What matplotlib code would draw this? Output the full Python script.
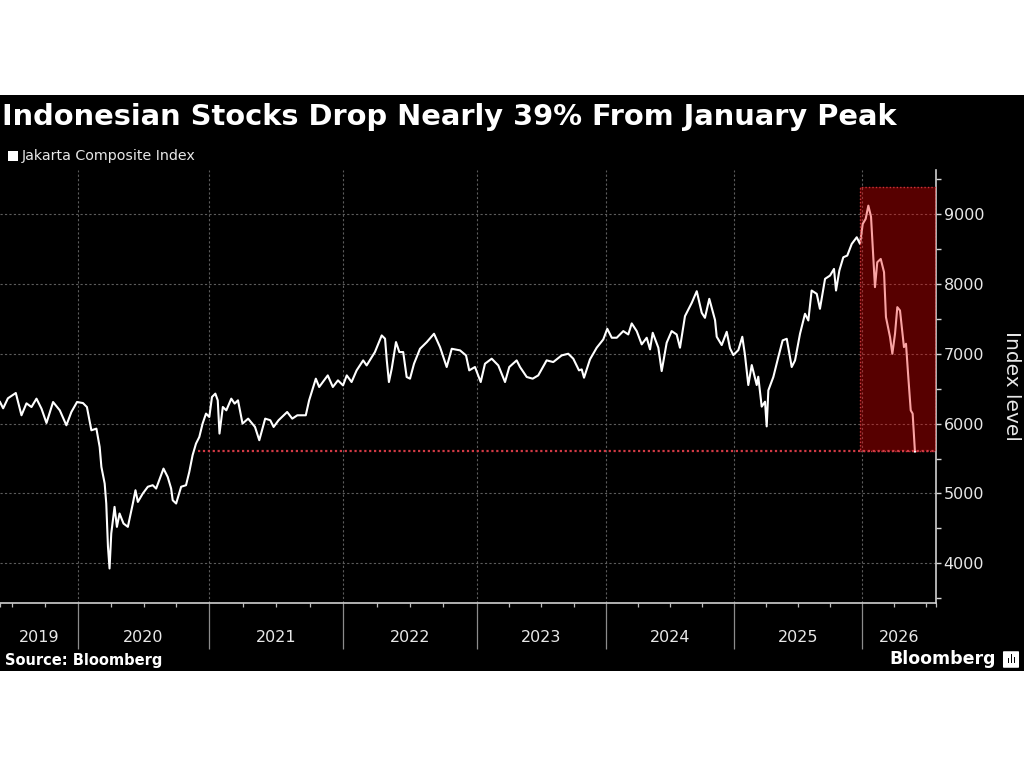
import matplotlib
matplotlib.use("Agg")
import numpy as np
import matplotlib.pyplot as plt
from matplotlib.patches import Rectangle, FancyBboxPatch
import matplotlib.ticker as mticker
import matplotlib.transforms as mtransforms

# ---------------- data (decimal years, index level) ----------------
t = [2019.409, 2019.434, 2019.470, 2019.530, 2019.573, 2019.611, 2019.649, 2019.687,
     2019.725, 2019.763, 2019.813, 2019.864, 2019.914, 2019.952, 2019.995,
     2020.040, 2020.070, 2020.104, 2020.142, 2020.167, 2020.180, 2020.205, 2020.217,
     2020.230, 2020.242, 2020.255, 2020.280, 2020.298, 2020.318, 2020.348, 2020.381,
     2020.419, 2020.439, 2020.457, 2020.495, 2020.533, 2020.570, 2020.596, 2020.652,
     2020.684, 2020.710, 2020.722, 2020.748, 2020.786, 2020.823, 2020.848, 2020.873,
     2020.899, 2020.924, 2020.949, 2020.975,
     2021.000, 2021.020, 2021.045, 2021.063, 2021.076, 2021.101, 2021.127, 2021.164,
     2021.189, 2021.214, 2021.248, 2021.290, 2021.341, 2021.373, 2021.417, 2021.455,
     2021.480, 2021.517, 2021.581, 2021.619, 2021.657, 2021.720, 2021.745, 2021.795,
     2021.820, 2021.884, 2021.922, 2021.960, 2021.998,
     2022.026, 2022.062, 2022.100, 2022.149, 2022.175, 2022.237, 2022.288, 2022.313,
     2022.326, 2022.342, 2022.363, 2022.395, 2022.420, 2022.449, 2022.475, 2022.500,
     2022.530, 2022.575, 2022.626, 2022.680, 2022.725, 2022.775, 2022.813, 2022.875,
     2022.920, 2022.944,
     2022.987, 2023.031, 2023.064, 2023.116, 2023.167, 2023.219, 2023.252, 2023.309,
     2023.335, 2023.387, 2023.433, 2023.476, 2023.541, 2023.592, 2023.657, 2023.708,
     2023.747, 2023.791, 2023.812, 2023.830, 2023.876, 2023.928, 2023.979,
     2024.010, 2024.045, 2024.084, 2024.135, 2024.174, 2024.201, 2024.240, 2024.279,
     2024.318, 2024.344, 2024.365, 2024.409, 2024.435, 2024.474, 2024.513, 2024.552,
     2024.578, 2024.617, 2024.670, 2024.709, 2024.748, 2024.773, 2024.807, 2024.852,
     2024.865, 2024.904, 2024.943, 2024.969, 2024.995,
     2025.034, 2025.065, 2025.086, 2025.112, 2025.139, 2025.178, 2025.190, 2025.217,
     2025.243, 2025.256, 2025.269, 2025.308, 2025.347, 2025.381, 2025.413, 2025.452,
     2025.478, 2025.517, 2025.556, 2025.582, 2025.608, 2025.648, 2025.673, 2025.713,
     2025.752, 2025.783, 2025.799, 2025.825, 2025.856, 2025.887, 2025.922, 2025.961,
     2025.987,
     2026.008, 2026.031, 2026.052, 2026.073, 2026.091, 2026.104, 2026.122, 2026.149,
     2026.175, 2026.190, 2026.222, 2026.240, 2026.261, 2026.279, 2026.300, 2026.331,
     2026.347, 2026.365, 2026.384, 2026.399, 2026.417]

v = [6309, 6219, 6362, 6438, 6119, 6290, 6237, 6357,
     6214, 6009, 6309, 6190, 5976, 6166, 6309,
     6294, 6237, 5904, 5928, 5665, 5380, 5142, 4856,
     4236, 3926, 4427, 4808, 4522, 4713, 4570, 4522,
     4856, 5046, 4879, 5000, 5096, 5118, 5070, 5356,
     5236, 5070, 4903, 4856, 5096, 5118, 5309, 5547,
     5714, 5808, 6000, 6143,
     6095, 6381, 6429, 6333, 5857, 6238, 6190, 6357,
     6286, 6333, 6000, 6071, 5952, 5762, 6071, 6048,
     5952, 6048, 6166, 6071, 6119, 6119, 6333, 6643,
     6524, 6690, 6524, 6619, 6547,
     6690, 6595, 6762, 6905, 6833, 7024, 7262, 7215,
     6905, 6595, 6786, 7167, 7024, 7024, 6667, 6643,
     6857, 7071, 7167, 7286, 7095, 6810, 7071, 7048,
     6976, 6762,
     6810, 6595, 6857, 6929, 6833, 6595, 6810, 6905,
     6810, 6667, 6643, 6690, 6905, 6881, 6976, 7000,
     6929, 6762, 6776, 6657, 6919, 7086, 7205,
     7357, 7229, 7229, 7324, 7276, 7434, 7324, 7134,
     7229, 7062, 7300, 7086, 6752, 7157, 7324, 7276,
     7086, 7538, 7729, 7895, 7586, 7514, 7786, 7481,
     7243, 7124, 7314, 7076, 6981,
     7052, 7243, 6981, 6552, 6838, 6552, 6671, 6243,
     6314, 5960, 6476, 6667, 6952, 7191, 7214, 6810,
     6905, 7286, 7572, 7476, 7905, 7857, 7643, 8072,
     8119, 8214, 7905, 8191, 8381, 8405, 8572, 8667,
     8572,
     8858, 8930, 9120, 8962, 8381, 7953, 8310, 8357,
     8167, 7524, 7238, 7000, 7286, 7667, 7619, 7095,
     7143, 6667, 6190, 6143, 5600]

title = "Indonesian Stocks Drop Nearly 39% From January Peak"
series_name = "Jakarta Composite Index"
y_label = "Index level"
source_text = "Source: Bloomberg"
brand_text = "Bloomberg"
year_labels = [2019, 2020, 2021, 2022, 2023, 2024, 2025, 2026]
year_bounds = [2020, 2021, 2022, 2023, 2024, 2025, 2026]
y_ticks = [4000, 5000, 6000, 7000, 8000, 9000]
x_start, x_end = 2019.41, 2026.582
y_min, y_max = 3432, 9630
peak_start = 2025.99
shade_top, shade_bottom = 9383, 5605
ref_line_start = 2020.914

# trading-day style time axis: relative width of each calendar year on the axis
axis_years = [x_start] + year_bounds + [x_end]
axis_pos = [0.0, 77.7, 209.3, 343.3, 476.7, 606.0, 734.0, 861.7, 936.0]


def fwd(x):
    return np.interp(x, axis_years, axis_pos)


def inv(p):
    return np.interp(p, axis_pos, axis_years)


# ---------------- figure ----------------
fig = plt.figure(figsize=(10.24, 7.68), dpi=100)
fig.patch.set_facecolor("white")
fig.add_artist(Rectangle((0, 97 / 768), 1, 576 / 768, transform=fig.transFigure,
                         facecolor="black", edgecolor="none", zorder=0))

ax = fig.add_axes([0.0, 165 / 768, 936 / 1024, 433 / 768])
ax.set_facecolor("black")
ax.set_xscale("function", functions=(fwd, inv))
ax.set_xlim(x_start, x_end)
ax.set_ylim(y_min, y_max)

ax.plot(t, v, color="white", lw=1.5, zorder=3, solid_joinstyle="round")

# shaded peak window
ax.add_patch(Rectangle((peak_start, shade_bottom), x_end - peak_start, shade_top - shade_bottom,
                       facecolor=(0.95, 0.0, 0.0), alpha=0.36, edgecolor="none", zorder=4))
ax.add_patch(Rectangle((peak_start, shade_bottom), x_end - peak_start, shade_top - shade_bottom,
                       fill=False, edgecolor="#c8363c", lw=1.0, linestyle=(0, (1, 1.5)), zorder=5))
ax.plot([ref_line_start, x_end], [shade_bottom, shade_bottom], color="#d23a45",
        lw=1.6, linestyle=(0, (1, 1.2)), zorder=5)

# grid / ticks
ax.xaxis.set_major_locator(mticker.FixedLocator(year_bounds))
ax.xaxis.set_minor_locator(mticker.MultipleLocator(0.25))
ax.xaxis.set_major_formatter(mticker.NullFormatter())
ax.xaxis.set_minor_formatter(mticker.NullFormatter())
ax.yaxis.set_major_locator(mticker.FixedLocator(y_ticks))
ax.yaxis.set_minor_locator(mticker.MultipleLocator(500))
ax.grid(True, which="major", color="#5c5c5c", lw=0.8, linestyle=(0, (2, 2)), zorder=1)
ax.set_axisbelow(True)

for s in ["left", "top"]:
    ax.spines[s].set_visible(False)
for s in ["bottom", "right"]:
    ax.spines[s].set_color("#cfcfcf")
    ax.spines[s].set_linewidth(1.2)

ax.tick_params(axis="x", which="major", direction="out", length=33, width=0.9,
               color="#8c8c8c", labelbottom=False)
ax.tick_params(axis="x", which="minor", direction="out", length=3, width=0.9, color="#bdbdbd")
ax.yaxis.tick_right()
ax.tick_params(axis="y", which="both", direction="out", length=3.5, width=1.0,
               color="#d8d8d8", labelsize=11.5, labelcolor="#e8e8e8", pad=2, left=False)

# year labels centred in visible spans
trans = mtransforms.blended_transform_factory(ax.transData, ax.transAxes)
for i, yr in enumerate(year_labels):
    mid = inv((fwd(axis_years[i]) + fwd(axis_years[i + 1])) / 2)
    ax.text(mid, -0.079, str(yr), transform=trans, ha="center", va="center",
            fontsize=11.5, color="#e8e8e8")

# texts
fig.text(0.002, (768 - 117) / 768, title, ha="left", va="center", fontsize=20.8,
         fontweight="bold", color="white")
fig.add_artist(Rectangle((8 / 1024, (768 - 161) / 768), 10 / 1024, 10 / 768,
                         transform=fig.transFigure, facecolor="white", edgecolor="none"))
fig.text(22 / 1024, (768 - 156) / 768, series_name, ha="left", va="center",
         fontsize=10.3, color="#e8e8e8")
fig.text(1011 / 1024, (768 - 386) / 768, y_label, rotation=270, ha="center", va="center",
         fontsize=14.5, color="#e8e8e8")
fig.text(5 / 1024, (768 - 661) / 768, source_text, ha="left", va="center",
         fontsize=10.5, fontweight="bold", color="white")
fig.text(996 / 1024, (768 - 659) / 768, brand_text, ha="right", va="center",
         fontsize=12.5, fontweight="bold", color="white")
fig.add_artist(FancyBboxPatch((1004 / 1024, (768 - 667) / 768), 14 / 1024, 15 / 768,
                              boxstyle="round,pad=0.001", transform=fig.transFigure,
                              facecolor="white", edgecolor="none"))
for bx, bh in [(1007.5, 5), (1010.5, 9), (1013.5, 6)]:
    fig.add_artist(Rectangle((bx / 1024, (768 - 663) / 768), 1.8 / 1024, bh / 768,
                             transform=fig.transFigure, facecolor="black", edgecolor="none"))

fig.savefig("out.png", dpi=100, facecolor="white")
